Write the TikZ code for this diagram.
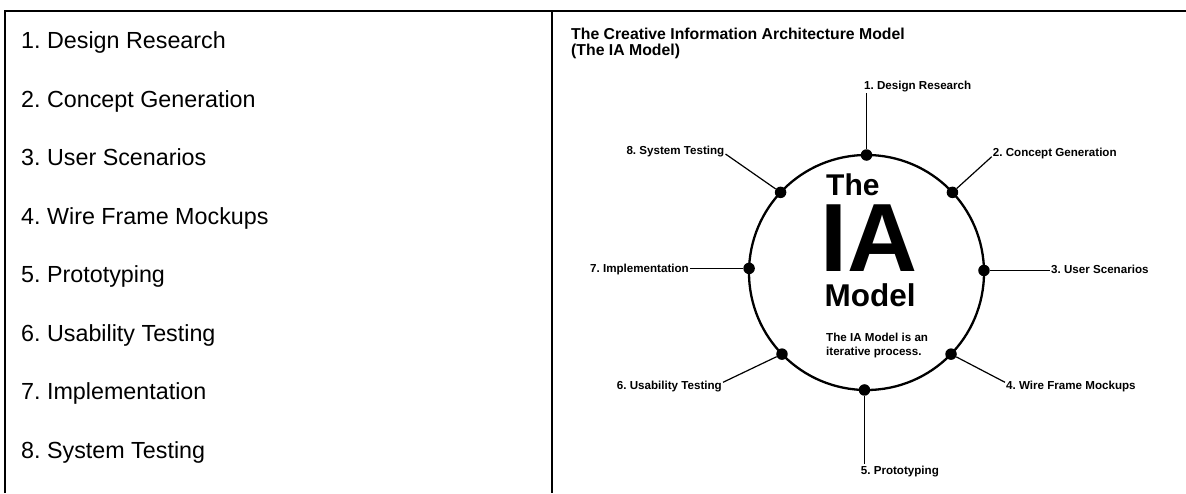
\documentclass[tikz,border=0pt]{standalone}
\usepackage{fontspec}
\setmainfont{Liberation Sans}
\frenchspacing
\tikzset{
  iadot/.style={circle,fill=black,inner sep=0pt,minimum size=11.5pt},
  steplabel/.style={inner sep=1pt,font=\fontsize{11.6}{13.3}\selectfont\bfseries},
  listitem/.style={inner sep=0pt,anchor=base west,font=\fontsize{23.3}{28}\selectfont},
  bigtext/.style={inner sep=0pt,anchor=base west},
}

\begin{document}
\begin{tikzpicture}[x=1pt,y=-1pt]
		\useasboundingbox (0,0) rectangle (1186,493);
		%%%%% FRAME %%%%%
		\draw[line width=2pt] (5,493) -- (5,10.5) -- (1186,10.5);
		\draw[line width=2pt] (552,10.5) -- (552,493);
		
		%%%%% LIST %%%%%
		\node[listitem] (item1) at (21,48.5) {1. Design Research};
		\node[listitem] (item2) at (21,107) {2. Concept Generation};
		\node[listitem] (item3) at (21,165.5) {3. User Scenarios};
		\node[listitem] (item4) at (21,224) {4. Wire Frame Mockups};
		\node[listitem] (item5) at (21,282.5) {5. Prototyping};
		\node[listitem] (item6) at (21,341) {6. Usability Testing};
		\node[listitem] (item7) at (21,399.5) {7. Implementation};
		\node[listitem] (item8) at (21,458) {8. System Testing};
		
		%%%%% TITLE %%%%%
		\node[bigtext,font=\fontsize{15.8}{18}\selectfont\bfseries] (title1) at (571,39.5) {The Creative Information Architecture Model};
		\node[bigtext,font=\fontsize{15.8}{18}\selectfont\bfseries] (title2) at (571,55) {(The IA Model)};
		
		%%%%% RING %%%%%
		\node[circle,draw,line width=2.3pt,outer sep=0pt,minimum size=235pt] (ring) at (866.5,272.5) {};
		
		\node[bigtext,text height=21.5pt,text depth=0pt,font=\fontsize{30}{30}\selectfont\bfseries] (the) at (826,195) {The};
		\node[bigtext,text height=69.5pt,text depth=0pt,font=\fontsize{97}{97}\selectfont\bfseries] (ia) at (820.5,271.7) {IA};
		\node[bigtext,text height=22.6pt,text depth=0pt,font=\fontsize{31.5}{32}\selectfont\bfseries] (model) at (824.4,306) {Model};
		\node[bigtext,font=\fontsize{11.6}{13.3}\selectfont\bfseries] (note1) at (826,341.7) {The IA Model is an};
		\node[bigtext,font=\fontsize{11.6}{13.3}\selectfont\bfseries] (note2) at (826,355) {iterative process.};
		
		\node[iadot] (d1) at (ring.90) {};
		\node[iadot] (d2) at (ring.43.5) {};
		\node[iadot] (d3) at (ring.1.2) {};
		\node[iadot] (d4) at (ring.-44.2) {};
		\node[iadot] (d5) at (ring.-91) {};
		\node[iadot] (d6) at (ring.-136.7) {};
		\node[iadot] (d7) at (ring.178.8) {};
		\node[iadot] (d8) at (ring.137.4) {};
		
		\node[steplabel,anchor=base west] (l1) at (863,89.3) {1. Design Research};
		\node[steplabel,anchor=base west] (l2) at (991.7,156.7) {2. Concept Generation};
		\node[steplabel,anchor=west] (l3) at (1050,269.5) {3. User Scenarios};
		\node[steplabel,anchor=base west] (l4) at (1005,389.3) {4. Wire Frame Mockups};
		\node[steplabel,anchor=base west] (l5) at (859.7,474) {5. Prototyping};
		\node[steplabel,anchor=base east] (l6) at (723,389.3) {6. Usability Testing};
		\node[steplabel,anchor=east] (l7) at (690,269.5) {7. Implementation};
		\node[steplabel,anchor=base east] (l8) at (725.5,154) {8. System Testing};
		
		\draw[line width=1.2pt] (d1) -- (d1 |- l1.south);
		\draw[line width=1.2pt] (d2) -- (l2.base west);
		\draw[line width=1.2pt] (d3) -- (d3 -| l3.west);
		\draw[line width=1.2pt] (d4) -- ([yshift=7pt]l4.base west);
		\draw[line width=1.2pt] (d5) -- (d5 |- l5.north);
		\draw[line width=1.2pt] (d6) -- ([yshift=7pt]l6.base east);
		\draw[line width=1.2pt] (d7) -- (d7 -| l7.east);
		\draw[line width=1.2pt] (d8) -- (l8.base east);
		%%%%% END %%%%%
	\end{tikzpicture}
\end{document}
